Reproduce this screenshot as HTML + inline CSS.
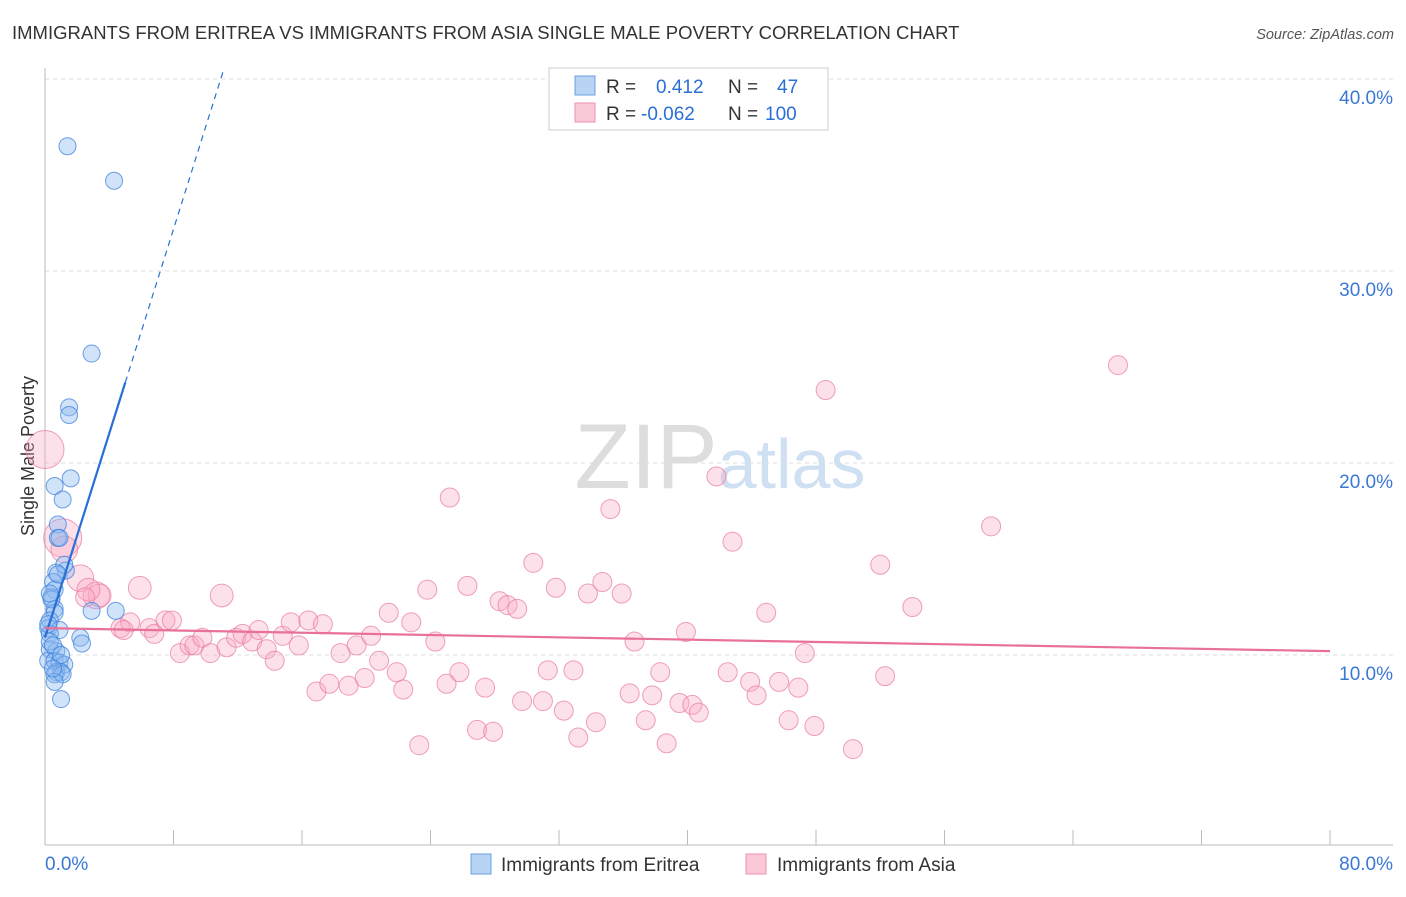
<!DOCTYPE html>
<html><head><meta charset="utf-8"><style>
body{margin:0;background:#fff;font-family:"Liberation Sans",sans-serif}
svg text{font-family:"Liberation Sans",sans-serif}
</style></head><body>
<svg id="c" width="1406" height="892" xmlns="http://www.w3.org/2000/svg">
<text x="12" y="39" font-size="18.5" fill="#333">IMMIGRANTS FROM ERITREA VS IMMIGRANTS FROM ASIA SINGLE MALE POVERTY CORRELATION CHART</text>
<text x="1394" y="39" font-size="14.5" fill="#555" text-anchor="end" font-style="italic">Source: ZipAtlas.com</text>
<text x="720" y="488" font-size="92" fill="#ddd" text-anchor="middle" font-family="Liberation Serif">ZIP<tspan fill="#cfe0f3" font-family="Liberation Sans" font-size="70">atlas</tspan></text>
<text transform="translate(34,456) rotate(-90)" font-size="18" fill="#333" text-anchor="middle">Single Male Poverty</text>
<g id="grid"></g><g id="pts"></g><g id="lines"></g>
<g>
<rect x="549" y="68" width="279" height="62" fill="#fff" stroke="#ccc"/>
<rect x="575" y="76" width="20" height="19" fill="#b8d4f5" stroke="#6a9fe0"/>
<rect x="575" y="103" width="20" height="19" fill="#fbc8d8" stroke="#ee92b0"/>
<text x="606" y="93" font-size="19" fill="#333">R =  <tspan fill="#2a6fd6" x="656">0.412</tspan><tspan fill="#333" x="728">N =</tspan><tspan fill="#2a6fd6" x="777">47</tspan></text>
<text x="606" y="120" font-size="19" fill="#333">R = <tspan fill="#2a6fd6" x="641">-0.062</tspan><tspan fill="#333" x="728">N =</tspan><tspan fill="#2a6fd6" x="765">100</tspan></text>
</g>
<g>
<rect x="471" y="854" width="20" height="20" fill="#b8d4f5" stroke="#6a9fe0"/>
<text x="501" y="871" font-size="19" fill="#333">Immigrants from Eritrea</text>
<rect x="746" y="854" width="20" height="20" fill="#fbc8d8" stroke="#ee92b0"/>
<text x="777" y="871" font-size="19" fill="#333">Immigrants from Asia</text>
</g>
</svg>
<script>
const yTicks=[10,20,30,40];
const yTickLabels=["10.0%","20.0%","30.0%","40.0%"];
const xTicks=[0,8,16,24,32,40,48,56,64,72,80];
const xEdgeLabels=["0.0%","80.0%"];
const blueX=[1.4,4.3,2.9,1.5,1.5,1.6,0.6,1.1,0.8,0.8,0.9,1.3,0.7,1.2,0.5,0.6,0.4,0.6,0.6,0.3,0.2,0.9,0.3,2.9,4.4,2.2,2.3,0.3,0.7,0.2,0.6,0.9,1.2,0.7,1.0,0.6,1.1,0.6,1.0,0.3,0.5,0.2,0.4,0.8,1.0,0.5,0.3];
const blueY=[36.5,34.7,25.7,22.9,22.5,19.2,18.8,18.1,16.8,16.1,16.1,14.4,14.3,14.7,13.8,13.4,13.0,12.4,12.2,11.8,11.4,11.3,11.1,12.3,12.3,10.9,10.6,10.3,10.2,9.7,9.7,9.6,9.5,9.1,9.1,9.0,9.0,8.6,7.7,10.7,10.5,11.6,12.9,14.2,10.0,9.3,13.2];
const pinkX=[0,1.1,1.2,2.2,3.2,3.4,2.7,5.9,11.0,4.7,5.3,6.5,6.8,7.5,7.9,8.4,9.0,9.3,9.8,10.3,11.3,11.9,12.3,12.9,13.3,13.8,14.3,14.8,15.3,15.8,16.4,17.3,16.9,17.7,18.4,18.9,19.4,19.9,20.3,20.8,21.4,21.9,22.3,22.8,23.3,23.8,24.3,25.0,25.2,25.8,26.3,26.9,27.4,27.9,28.3,28.8,29.4,29.7,30.4,31.0,31.3,31.8,32.3,32.9,33.2,33.8,34.3,34.7,35.2,35.9,36.4,36.7,37.4,37.8,38.3,38.7,39.5,39.9,40.3,40.7,41.8,42.5,42.8,43.9,44.3,44.9,45.7,46.3,46.9,47.3,47.9,48.6,50.3,52.0,52.3,54.0,58.9,66.8,4.9,2.5];
const pinkY=[20.7,16.1,15.5,14.0,13.1,13.1,13.4,13.5,13.1,11.4,11.7,11.4,11.1,11.8,11.8,10.1,10.5,10.5,10.9,10.1,10.4,10.9,11.1,10.7,11.3,10.3,9.7,11.0,11.7,10.5,11.8,11.6,8.1,8.5,10.1,8.4,10.5,8.8,11.0,9.7,12.2,9.1,8.2,11.7,5.3,13.4,10.7,8.5,18.2,9.1,13.6,6.1,8.3,6.0,12.8,12.6,12.4,7.6,14.8,7.6,9.2,13.5,7.1,9.2,5.7,13.2,6.5,13.8,17.6,13.2,8.0,10.7,6.6,7.9,9.1,5.4,7.5,11.2,7.4,7.0,19.3,9.1,15.9,8.6,7.9,12.2,8.6,6.6,8.3,10.1,6.3,23.8,5.1,14.7,8.9,12.5,16.7,25.1,11.3,13.0];
const pinkSize=[2.0,2,1.4,1.4,1.4,1.2,1.2,1.2,1.2];
const blueLine=[10.9,2.66], pinkLine=[11.4,10.2];
const X=v=>45+v*1285/80, Y=v=>847-v*19.2;
const NS="http://www.w3.org/2000/svg";
function mk(p,t,a){const e=document.createElementNS(NS,t);for(const k in a)e.setAttribute(k,a[k]);p.appendChild(e);return e;}
const g=document.getElementById('grid'),pts=document.getElementById('pts'),ln=document.getElementById('lines');
yTicks.forEach((t,i)=>{
 const l=mk(g,'line',{x1:45,x2:1393,y1:Y(t),y2:Y(t),stroke:'#ddd','stroke-dasharray':'4,4'});
 
 
 const tx=mk(g,'text',{x:1393,y:Y(t)+25,'font-size':19,fill:'#3a78d6','text-anchor':'end'});tx.textContent=yTickLabels[i];
 
 
});
mk(g,'line',{x1:45,x2:45,y1:68,y2:845,stroke:'#bbb'});
mk(g,'line',{x1:45,x2:1393,y1:845,y2:845,stroke:'#bbb'});
xTicks.forEach(t=>{const l=mk(g,'line',{x1:X(t),x2:X(t),y1:830,y2:845,stroke:'#bbb'});
 
 });
[[0,'start',45],[80,'end',1393]].forEach((o,i)=>{const tx=mk(g,'text',{x:o[2],y:870,'font-size':19,fill:'#3a78d6','text-anchor':o[1]});tx.textContent=xEdgeLabels[i];
 
 });
pinkX.forEach((x,i)=>{const c=mk(pts,'circle',{cx:X(x),cy:Y(pinkY[i]),r:9.5*(pinkSize[i]||1),fill:'rgba(248,170,196,0.35)',stroke:'rgba(232,120,160,0.7)','stroke-width':1});
 
 });
blueX.forEach((x,i)=>{const c=mk(pts,'circle',{cx:X(x),cy:Y(blueY[i]),r:8.5,fill:'rgba(140,185,240,0.4)',stroke:'rgba(60,130,220,0.75)','stroke-width':1});
 
 });
const bf=v=>blueLine[0]+blueLine[1]*v;
let l=mk(ln,'line',{x1:X(0),y1:Y(bf(0)),x2:X(5),y2:Y(bf(5)),stroke:'#2a6fd6','stroke-width':2.2});


l=mk(ln,'line',{x1:X(5),y1:Y(bf(5)),x2:X(11.1),y2:Y(bf(11.1)),stroke:'#2a6fd6','stroke-width':1.2,'stroke-dasharray':'6,5'});


l=mk(ln,'line',{x1:X(0),y1:Y(pinkLine[0]),x2:X(80),y2:Y(pinkLine[1]),stroke:'#e8709a','stroke-width':2.2});


</script>
</body></html>
